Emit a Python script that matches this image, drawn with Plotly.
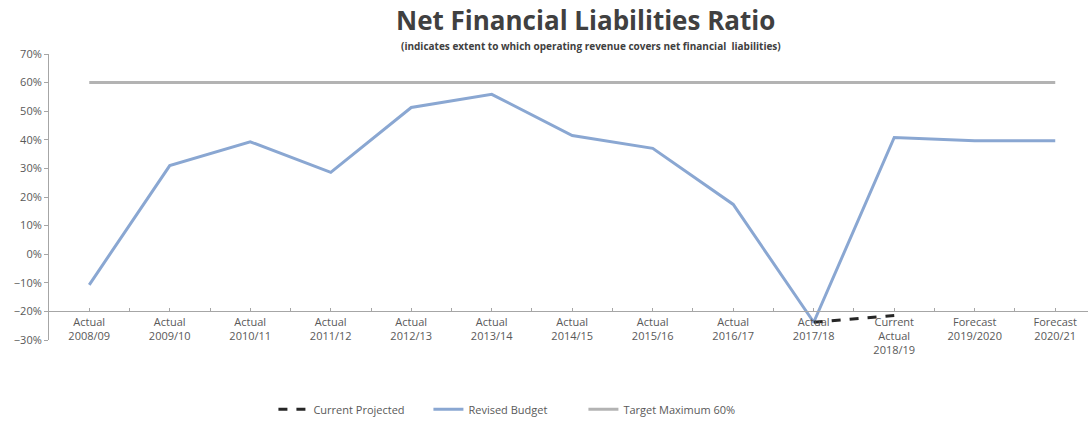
import plotly.graph_objects as go

categories = ["Actual<br>2008/09", "Actual<br>2009/10", "Actual<br>2010/11", "Actual<br>2011/12",
              "Actual<br>2012/13", "Actual<br>2013/14", "Actual<br>2014/15", "Actual<br>2015/16",
              "Actual<br>2016/17", "Actual<br>2017/18", "Current<br>Actual<br>2018/19",
              "Forecast<br>2019/2020", "Forecast<br>2020/21"]
revised_budget = [-0.107, 0.31, 0.393, 0.286, 0.513, 0.559, 0.415, 0.37, 0.174, -0.238, 0.408, 0.397, 0.397]
current_projected_cats = ["Actual<br>2017/18", "Current<br>Actual<br>2018/19"]
current_projected = [-0.238, -0.214]
target_max = [0.60] * len(categories)

title_text = "Net Financial Liabilities Ratio"
subtitle_text = "(indicates extent to which operating revenue covers net financial  liabilities)"

idx = {c: i for i, c in enumerate(categories)}

fig = go.Figure()
fig.add_trace(go.Scatter(x=[idx[c] for c in categories], y=target_max, mode="lines",
                         name="Target Maximum 60%", line=dict(color="#b3b3b3", width=3)))
fig.add_trace(go.Scatter(x=[idx[c] for c in categories], y=revised_budget, mode="lines",
                         name="Revised Budget", line=dict(color="#8aa7d2", width=3)))
fig.add_trace(go.Scatter(x=[idx[c] for c in current_projected_cats], y=current_projected, mode="lines",
                         name="Current Projected", line=dict(color="#262626", width=3, dash="dash")))

fig.add_annotation(text="<b>" + title_text + "</b>", xref="paper", yref="paper",
                   x=(585 - 49) / 1039, y=1 + (54 - 20) / 286, xanchor="center", yanchor="middle",
                   showarrow=False, font=dict(family="Open Sans", size=26, color="#404040"))
fig.add_annotation(text="<b>" + subtitle_text + "</b>", xref="paper", yref="paper",
                   x=(591 - 49) / 1039, y=1 + (54 - 46) / 286, xanchor="center", yanchor="middle",
                   showarrow=False, font=dict(family="Open Sans", size=10, color="#404040"))

fig.update_layout(
    width=1088, height=422,
    margin=dict(l=49, r=0, t=54, b=82),
    paper_bgcolor="white", plot_bgcolor="white",
    font=dict(family="Open Sans", color="#595959", size=11),
    showlegend=True,
    legend=dict(orientation="h", traceorder="reversed", xref="container", yref="container",
                x=0.465, xanchor="center", y=0.03, yanchor="middle",
                font=dict(size=11, color="#595959"), entrywidth=110),
    xaxis=dict(
        range=[-0.5, 12.407], tickvals=list(range(len(categories))), ticktext=categories,
        anchor="free", position=0.1, showline=True, linecolor="#a6a6a6", linewidth=1,
        showgrid=False, zeroline=False, ticks="inside", ticklen=3, tickcolor="#a6a6a6",
        minor=dict(dtick=0.5, tick0=0.5, ticks="inside", ticklen=3, tickcolor="#a6a6a6", showgrid=False),
        tickfont=dict(size=11, color="#595959"), fixedrange=True),
    yaxis=dict(
        range=[-0.3, 0.7], dtick=0.1, tickformat=".0%", showline=True, linecolor="#a6a6a6",
        linewidth=1, showgrid=False, zeroline=False, ticks="outside", ticklen=4,
        tickcolor="#a6a6a6", tickfont=dict(size=11, color="#595959")),
)

fig.write_html("out.html")
